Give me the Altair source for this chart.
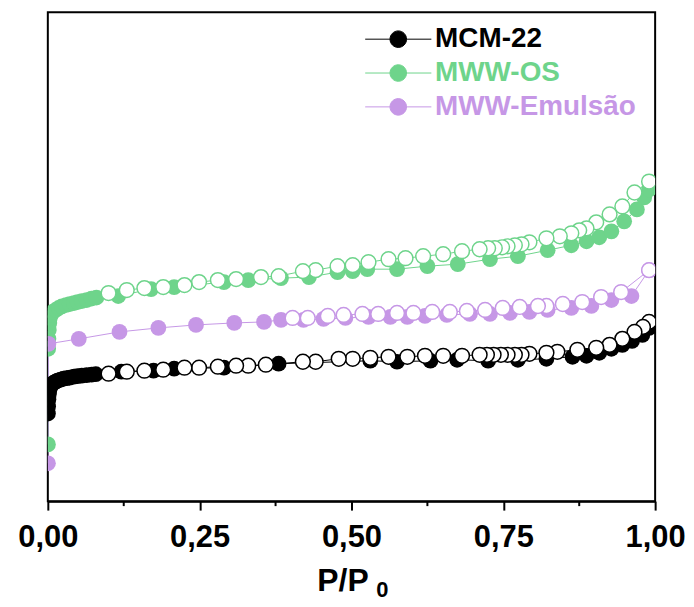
import altair as alt
import pandas as pd

# ---------------- data ----------------
series_names = ["MCM-22", "MWW-OS", "MWW-Emulsão"]
series_colors = ["#000000", "#6ed48b", "#c697e6"]

x_major_ticks = [0.0, 0.25, 0.5, 0.75, 1.0]
x_minor_ticks = [0.125, 0.375, 0.625, 0.875]

# MCM-22 adsorption (filled) / desorption (open)
mcm_ads_p = [0.0002, 0.0005, 0.001, 0.0016, 0.0025, 0.0033, 0.005, 0.0066, 0.0098, 0.013,
             0.016, 0.021, 0.026, 0.031, 0.036, 0.043, 0.049, 0.056, 0.064, 0.072,
             0.079, 0.121, 0.174, 0.208, 0.290, 0.380, 0.531, 0.575, 0.630, 0.674,
             0.725, 0.774, 0.821, 0.864, 0.887, 0.908, 0.928, 0.946, 0.962, 0.979, 0.990]
mcm_ads_v = [88, 95, 102, 107, 111, 114, 116, 117.5, 119, 120,
             121, 122, 123, 123.5, 124, 125, 125.5, 126, 126.5, 127,
             127.5, 130, 131, 133, 134, 138, 141, 140, 141, 142,
             141, 142, 143, 145, 146, 149, 153, 157, 161, 167, 174]
mcm_des_p = [0.990, 0.980, 0.966, 0.946, 0.925, 0.903, 0.872, 0.839, 0.821, 0.793,
             0.780, 0.769, 0.757, 0.746, 0.734, 0.723, 0.711, 0.682, 0.651, 0.621,
             0.592, 0.561, 0.531, 0.502, 0.479, 0.441, 0.420, 0.359, 0.330, 0.310,
             0.280, 0.249, 0.225, 0.190, 0.159, 0.130, 0.100]
mcm_des_v = [180, 175, 170, 163, 157, 154, 152, 150, 149, 148,
             147, 147, 147, 147, 147, 147, 147, 146, 146, 146,
             145, 145, 144, 143, 143, 140, 140, 137, 136, 136,
             135, 134, 134, 132, 131, 130, 128]

# MWW-OS
os_ads_p = [0.0002, 0.0006, 0.001, 0.0016, 0.0025, 0.0033, 0.005, 0.008, 0.013, 0.018,
            0.023, 0.030, 0.036, 0.043, 0.049, 0.056, 0.064, 0.072, 0.080, 0.116,
            0.170, 0.208, 0.290, 0.330, 0.384, 0.430, 0.477, 0.502, 0.526, 0.575,
            0.625, 0.675, 0.728, 0.774, 0.823, 0.862, 0.887, 0.908, 0.928, 0.949,
            0.970, 0.982, 0.990]
os_ads_v = [57, 153, 163, 172, 179, 184, 187, 190, 192, 194,
            195.5, 197, 198, 199, 200, 201, 202, 203.5, 204.5, 206,
            213, 215, 220, 222, 224, 225, 230, 231, 233, 233,
            236, 238, 243, 246, 252, 257, 261, 265, 271, 281,
            293, 305, 313]
os_des_p = [0.990, 0.966, 0.946, 0.925, 0.903, 0.887, 0.875, 0.862, 0.843, 0.821,
            0.793, 0.780, 0.769, 0.757, 0.748, 0.736, 0.725, 0.711, 0.682, 0.651,
            0.618, 0.589, 0.561, 0.528, 0.502, 0.477, 0.441, 0.420, 0.380, 0.351,
            0.310, 0.280, 0.249, 0.225, 0.190, 0.159, 0.130, 0.100]
os_des_v = [321, 310, 296, 288, 280, 274, 272, 269, 266, 264,
            260, 258, 257, 256, 255, 254, 254, 253, 251, 248,
            246, 244, 243, 240, 237, 236, 232, 231, 226, 225,
            223, 222, 220, 217, 215, 214, 212, 209]

# MWW-Emulsão
em_ads_p = [0.0002, 0.001, 0.051, 0.118, 0.182, 0.244, 0.307, 0.356, 0.384, 0.421,
            0.454, 0.490, 0.528, 0.564, 0.592, 0.621, 0.657, 0.695, 0.728, 0.761,
            0.793, 0.823, 0.862, 0.895, 0.928, 0.961, 0.990]
em_ads_v = [38, 158, 163, 170, 174, 177, 179, 180, 182, 182,
            183, 184, 185, 185, 185, 186, 187, 188, 188, 189,
            190, 192, 194, 196, 202, 206, 232]
em_des_p = [0.990, 0.944, 0.911, 0.880, 0.848, 0.821, 0.807, 0.777, 0.749, 0.720,
            0.690, 0.662, 0.633, 0.602, 0.575, 0.544, 0.518, 0.487, 0.461, 0.428, 0.403]
em_des_v = [232, 210, 205, 200, 198, 196, 196, 195, 194, 192,
            191, 190, 190, 189, 189, 188, 188, 187, 186, 184, 184]

x_title = "P/P"
x_title_sub = "0"

# ---------------- build table ----------------
rows = []
for name, (ap, av, dp, dv) in zip(series_names, [
        (mcm_ads_p, mcm_ads_v, mcm_des_p, mcm_des_v),
        (os_ads_p, os_ads_v, os_des_p, os_des_v),
        (em_ads_p, em_ads_v, em_des_p, em_des_v)]):
    seq = 0
    for p, v in zip(ap, av):
        rows.append({"series": name, "branch": "ads", "p": p, "v": v, "seq": seq})
        seq += 1
    for p, v in zip(dp, dv):
        rows.append({"series": name, "branch": "des", "p": p, "v": v, "seq": seq})
        seq += 1
df = pd.DataFrame(rows)
minor_df = pd.DataFrame({"p": x_minor_ticks})
sub_df = pd.DataFrame({"label": [x_title_sub]})

FONT = "Liberation Sans"
W, H = 610, 491

color_expr = ""
for n, c in zip(series_names[:-1], series_colors[:-1]):
    color_expr += f"datum.label === '{n}' ? '{c}' : "
color_expr += f"'{series_colors[-1]}'"

x_axis = alt.Axis(
    values=x_major_ticks,
    labelExpr="replace(format(datum.value, '.2f'), '.', ',')",
    title=x_title,
    titleFont=FONT, titleFontSize=32, titleFontWeight="bold", titleColor="black",
    titlePadding=13, titleX=296, titleAlign="center",
    labelFont=FONT, labelFontSize=31, labelFontWeight="bold", labelColor="black",
    labelPadding=13, labelFlush=False,
    tickSize=9, tickWidth=2, tickColor="black",
    domainColor="black", domainWidth=2, grid=False,
)
x_scale = alt.Scale(domain=[0, 1], nice=False, zero=False)
x_enc = alt.X("p:Q", scale=x_scale, axis=x_axis)
y_enc = alt.Y("v:Q", scale=alt.Scale(domain=[0, 491], nice=False, zero=False), axis=None)
color_scale = alt.Scale(domain=series_names, range=series_colors)

legend = alt.Legend(
    title=None, orient="none", legendX=338, legendY=13,
    symbolType="M-4,0L-1,0M1,0L4,0M-1,0A1,1,0,1,1,1,0A1,1,0,1,1,-1,0Z",
    symbolSize=276, symbolStrokeWidth=1,
    symbolStrokeColor={"expr": color_expr},
    symbolFillColor={"expr": color_expr},
    labelColor={"expr": color_expr},
    labelFont=FONT, labelFontSize=28, labelFontWeight="bold",
    labelOffset=23, rowPadding=6, padding=0, symbolOffset=0, labelLimit=0,
)
color_enc = alt.Color("series:N", scale=color_scale, legend=legend)

base = alt.Chart(df)

lines = base.mark_line(strokeWidth=1, clip=True).encode(
    x=x_enc, y=y_enc, color=color_enc,
    detail="series:N",
    order="seq:Q",
)

filled = base.transform_filter(alt.datum.branch == "ads").mark_circle(
    size=250, opacity=1, clip=True
).encode(x=x_enc, y=y_enc, color=color_enc)

opened = base.transform_filter(alt.datum.branch == "des").mark_point(
    shape="circle", filled=False, fill="white", fillOpacity=1, size=220,
    strokeWidth=1.5, opacity=1, clip=True
).encode(x=x_enc, y=y_enc, color=color_enc)

minor = alt.Chart(minor_df).mark_rule(color="black", strokeWidth=2).encode(
    x=x_enc,
    y=alt.value(H),
    y2=alt.value(H + 5),
)

subscript = alt.Chart(sub_df).mark_text(
    font=FONT, fontSize=22, fontWeight="bold", color="black",
    align="center", baseline="alphabetic",
).encode(
    text="label:N",
    x=alt.value(336),
    y=alt.value(H + 96),
)

chart = alt.layer(lines, filled, opened, minor, subscript).properties(
    width=W, height=H,
    padding={"left": 9, "top": 3, "right": 0, "bottom": 0},
    background="white",
).configure_view(stroke="black", strokeWidth=2)

chart.save("out.html", embed_options={"renderer": "svg", "actions": False})
